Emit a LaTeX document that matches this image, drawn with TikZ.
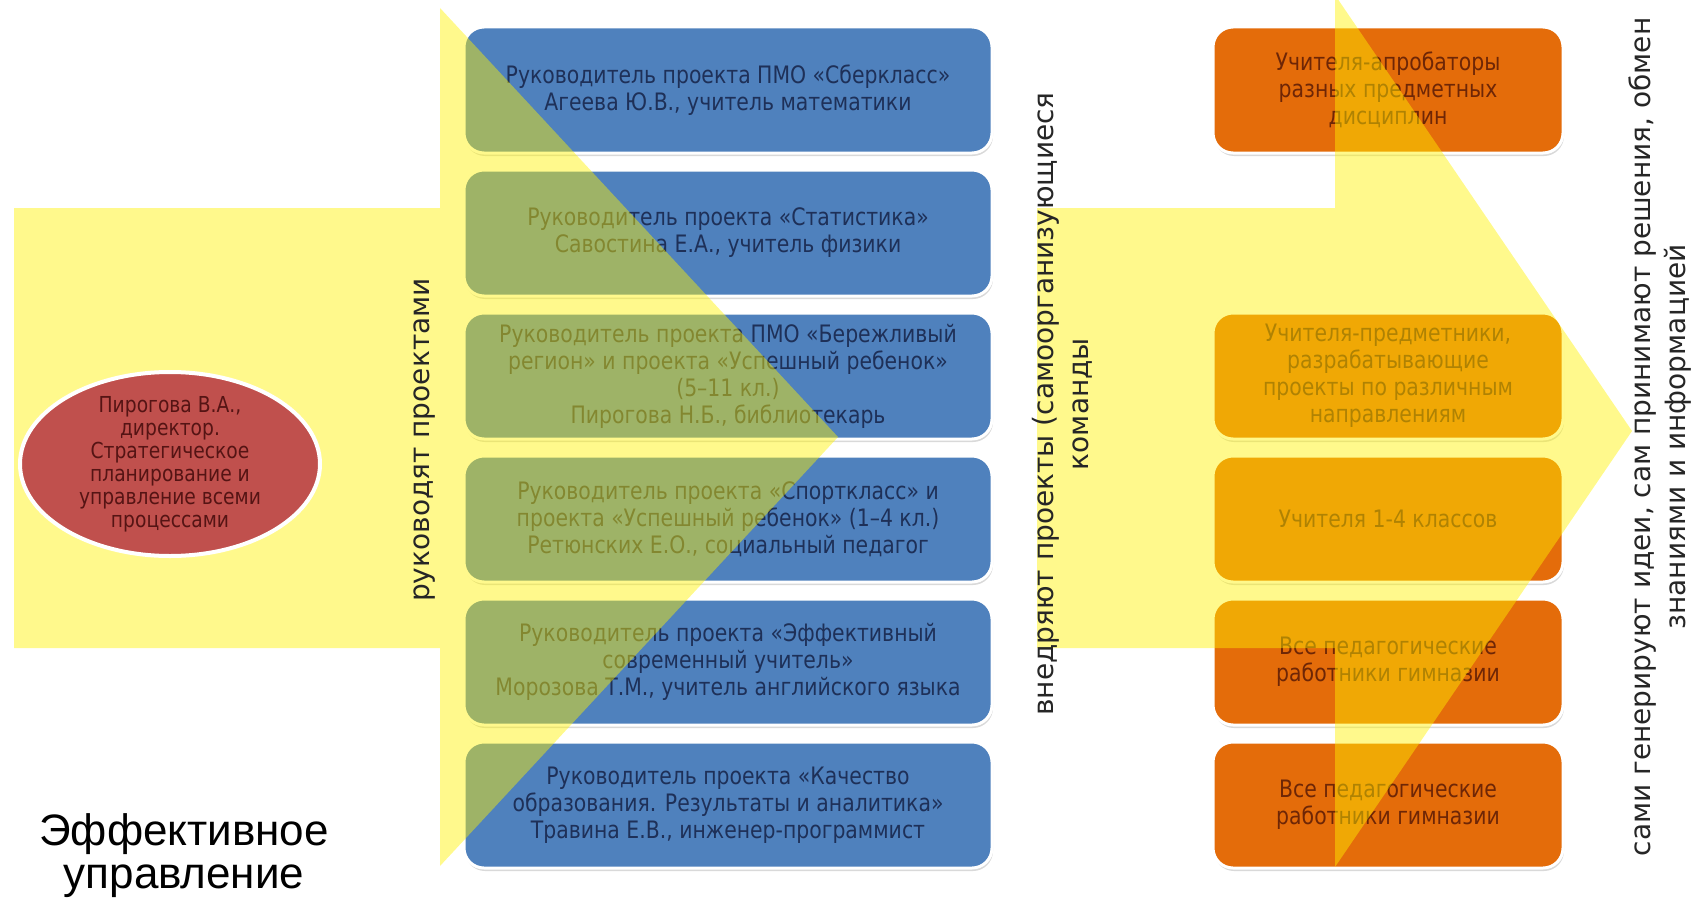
\documentclass[tikz,border=0pt]{standalone}
\usepackage{fontspec}
\setmainfont{DejaVu Sans}
\newfontfamily\boxfont[FakeStretch=0.85]{DejaVu Sans}
\newfontfamily\titlefont{Liberation Sans}
\usetikzlibrary{shapes.geometric, shadows}

\definecolor{blu}{RGB}{79,129,189}
\definecolor{blutxt}{RGB}{30,48,88}
\definecolor{orng}{RGB}{228,108,10}
\definecolor{orngtxt}{RGB}{110,38,6}
\definecolor{krasn}{RGB}{192,80,77}
\definecolor{krasntxt}{RGB}{85,20,20}

\begin{document}
\begin{tikzpicture}[x=0.5pt, y=-0.5pt, node distance={71.5pt},
    box/.style = {draw=white, line width=1.5pt, rounded corners=10pt, minimum width=264pt, minimum height=63pt, align=center,
      font=\boxfont\fontsize{12}{13.5}\selectfont, drop shadow={shadow xshift=0.5pt, shadow yshift=-1.5pt, opacity=0.3}},
    proj/.style = {box, fill=blu, text=blutxt},
    team/.style = {box, fill=orng, text=orngtxt, minimum width=175pt},
    flow/.style = {fill=yellow, fill opacity=0.45},
    vlabel/.style = {rotate=90, align=center, font=\fontsize{14}{17.5}\selectfont, text=black!85}]
    \useasboundingbox (0,0) rectangle (1691,904);
    \clip (0,0) rectangle (1691,904);

    \node[proj] (P1) at (728,90) {Руководитель проекта ПМО «Сберкласс»\\Агеева Ю.В., учитель математики};
    \node[proj] (P2) [below of=P1] {Руководитель проекта «Статистика»\\Савостина Е.А., учитель физики};
    \node[proj] (P3) [below of=P2] {Руководитель проекта ПМО «Бережливый\\регион» и проекта «Успешный ребенок»\\(5–11 кл.)\\Пирогова Н.Б., библиотекарь};
    \node[proj] (P4) [below of=P3] {Руководитель проекта «Спорткласс» и\\проекта «Успешный ребенок» (1–4 кл.)\\Ретюнских Е.О., социальный педагог};
    \node[proj] (P5) [below of=P4] {Руководитель проекта «Эффективный\\современный учитель»\\Морозова Т.М., учитель английского языка};
    \node[proj] (P6) [below of=P5] {Руководитель проекта «Качество\\образования. Результаты и аналитика»\\Травина Е.В., инженер-программист};

    \node[team] (T1) at (1388,90) {Учителя-апробаторы\\разных предметных\\дисциплин};
    \node[team] (T2) at (1388,376) {Учителя-предметники,\\разрабатывающие\\проекты по различным\\направлениям};
    \node[team] (T3) [below of=T2] {Учителя 1-4 классов};
    \node[team] (T4) [below of=T3] {Все педагогические\\работники гимназии};
    \node[team] (T5) [below of=T4] {Все педагогические\\работники гимназии};

    % big arrows
    \fill[flow] (14,208) -- (440,208) -- (440,8) -- (838,437) -- (440,866) -- (440,648) -- (14,648) -- cycle;
    \fill[flow] (1037,208) -- (1335,208) -- (1335,-5) -- (1632,431) -- (1335,867) -- (1335,648) -- (1037,648) -- cycle;

    \node[ellipse, draw=white, line width=2pt, fill=krasn, text=krasntxt, inner sep=-5pt, minimum width=150pt, minimum height=92pt,
      align=center, font=\boxfont\fontsize{11}{11.5}\selectfont] (D) at (170,464)
      {Пирогова В.А.,\\директор.\\Стратегическое\\планирование и\\управление всеми\\процессами};

    \node[vlabel] (L1) at (425,440) {руководят проектами};
    \node[vlabel] (L2) at (1062,404) {внедряют проекты (самоорганизующиеся\\команды};
    \node[vlabel] (L3) at (1660,437) {сами генерируют идеи, сам принимают решения, обмен\\знаниями и информацией};
    \node[align=center, inner sep=0pt, font=\titlefont\fontsize{22}{21.5}\selectfont] (E) at (184,856) {Эффективное\\управление};
\end{tikzpicture}
\end{document}
